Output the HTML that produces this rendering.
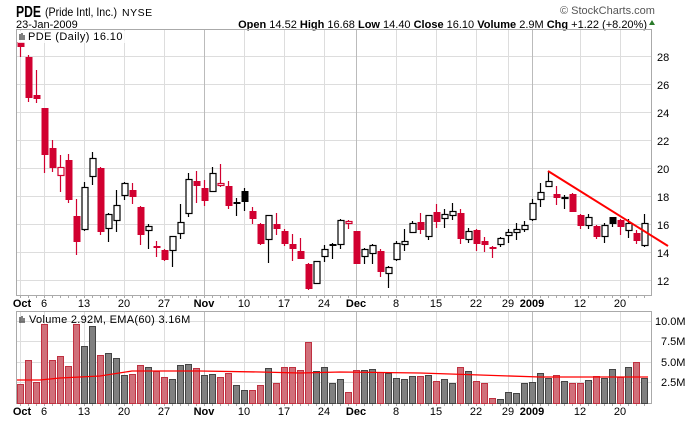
<!DOCTYPE html>
<html><head><meta charset="utf-8"><style>
body{margin:0;background:#fff;}
svg{display:block;font-family:"Liberation Sans",sans-serif;}
</style></head><body>
<svg id="s" width="700" height="421" viewBox="0 0 700 421" xmlns="http://www.w3.org/2000/svg">
<rect width="700" height="421" fill="#fff"/>
<text x="16" y="17" font-size="16" font-weight="bold" fill="#000" textLength="25" lengthAdjust="spacingAndGlyphs">PDE</text>
<text x="45" y="16" font-size="12" fill="#000" textLength="72" lengthAdjust="spacingAndGlyphs">(Pride Intl, Inc.)</text>
<text x="122" y="16" font-size="10.5" fill="#000" letter-spacing="0.5">NYSE</text>
<text x="16" y="28" font-size="11" fill="#000">23-Jan-2009</text>
<text x="560" y="14" font-size="11" fill="#555">© StockCharts.com</text>
<text x="647" y="28" font-size="11" text-anchor="end" fill="#000"><tspan font-weight="bold">Open</tspan> 14.52 <tspan font-weight="bold">High</tspan> 16.68 <tspan font-weight="bold">Low</tspan> 14.40 <tspan font-weight="bold">Close</tspan> 16.10 <tspan font-weight="bold">Volume</tspan> 2.9M <tspan font-weight="bold">Chg</tspan> +1.22 (+8.20%)</text>
<path d="M649,25 l3,-5 l3,5z" fill="#2a7a2a"/>
<g id="grid"></g>
<rect x="16.5" y="29.5" width="635" height="266" fill="none" stroke="#aaa"/>
<rect x="16.5" y="311.5" width="635" height="92" fill="none" stroke="#aaa"/>
<g id="vol"></g>
<g id="cdl"></g>
<line x1="548" y1="171" x2="668" y2="246" stroke="#f00" stroke-width="2"/>
<rect x="18" y="31" width="120" height="12" fill="#fff" opacity="0.8"/>
<text x="28" y="40" font-size="11" fill="#000" letter-spacing="0.4">PDE (Daily) 16.10</text>
<path d="M20,34v6M22,33v7M24,35v5" stroke="#000" stroke-width="1"/>
<text x="29" y="323" font-size="11" fill="#000" letter-spacing="0.3">Volume 2.92M, EMA(60) 3.16M</text>
<path d="M20,317v6M22,316v7M24,318v5" stroke="#000" stroke-width="1"/>
<g font-size="11" fill="#000">
<text x="657" y="61">28</text><text x="657" y="89">26</text><text x="657" y="117">24</text><text x="657" y="145">22</text><text x="657" y="173">20</text><text x="657" y="201">18</text><text x="657" y="229">16</text><text x="657" y="257">14</text><text x="657" y="285">12</text>
<text x="655" y="325">10.0M</text><text x="661" y="345">7.5M</text><text x="661" y="366">5.0M</text><text x="661" y="386">2.5M</text>
</g>
<g id="xl" font-size="11" fill="#000" text-anchor="middle"></g>
</svg>
<script>
var NS="http://www.w3.org/2000/svg";
function el(p,t,a){var e=document.createElementNS(NS,t);for(var k in a)e.setAttribute(k,a[k]);document.getElementById(p).appendChild(e);return e;}
[56,84,112,140,168,196,224,252,280].forEach(function(y){el('grid','line',{x1:16,x2:652,y1:y+.5,y2:y+.5,stroke:'#ddd'});});
[321,341,362,382].forEach(function(y){el('grid','line',{x1:16,x2:652,y1:y+.5,y2:y+.5,stroke:'#ddd'});});
var vx=[[20,0],[44,0],[84,0],[124,0],[164,0],[204,1],[244,0],[284,0],[324,0],[356,1],[396,0],[436,0],[476,0],[508,0],[532,1],[580,0],[620,0]];
vx.forEach(function(v){var c=v[1]?'#bbb':'#ddd';el('grid','line',{x1:v[0]+.5,x2:v[0]+.5,y1:29,y2:296,stroke:c});el('grid','line',{x1:v[0]+.5,x2:v[0]+.5,y1:311,y2:404,stroke:c});});
for(var i=0;i<79;i++){var x=20+8*i;el('grid','line',{x1:x+.5,x2:x+.5,y1:296,y2:298,stroke:'#aaa'});el('grid','line',{x1:x+.5,x2:x+.5,y1:404,y2:406,stroke:'#aaa'});}
var lab=[[20,'Oct',1],[44,'6'],[84,'13'],[124,'20'],[164,'27'],[204,'Nov',1],[244,'10'],[284,'17'],[324,'24'],[356,'Dec',1],[396,'8'],[436,'15'],[476,'22'],[508,'29'],[532,'2009',1],[580,'12'],[620,'20']];
lab.forEach(function(l){[307,415].forEach(function(y){var t=el('xl','text',{x:l[0]+(l[0]==20?2:0),y:y});if(l[2])t.setAttribute('font-weight','bold');t.textContent=l[1];});});
var C=[[42,57,42,47,'r'],[55,102,57,98,'r'],[70,103,95,99,'r'],[108,173,108,155,'r'],[140,172,148,168,'r'],[155,192,167,176,'o'],[154,203,160,200,'r'],[199,255,216,242,'r'],[182,231,187,230,'w'],[152,185,158,177,'w'],
[167,235,168,232,'r'],[213,242,214,229,'w'],[190,232,205,221,'w'],[182,200,183,196,'w'],[183,204,190,197,'r'],[206,245,207,235,'r'],[224,249,226,231,'w'],[241,257,246,248,'r'],[249,261,250,260,'r'],[236,267,236,251,'w'],
[204,239,222,234,'w'],[173,217,179,214,'w'],[171,203,181,186,'r'],[180,206,188,201,'r'],[167,192,173,192,'w'],[164,187,183,186,'o'],[181,209,186,206,'r'],[198,216,202,204,'b'],[188,211,191,202,'b'],[207,224,211,219,'r'],
[223,245,224,244,'r'],[215,263,215,240,'w'],[213,235,224,229,'r'],[229,246,231,244,'r'],[234,261,244,249,'r'],[238,259,251,259,'r'],[263,290,264,289,'r'],[261,284,261,284,'w'],[245,262,249,257,'w'],[243,259,244,246,'b'],
[219,249,220,245,'w'],[220,229,221,224,'o'],[231,264,231,264,'r'],[248,264,249,257,'w'],[244,264,245,254,'w'],[249,277,251,272,'r'],[266,288,267,274,'w'],[241,261,243,260,'w'],[229,251,241,245,'w'],[221,233,223,233,'w'],
[213,234,222,230,'r'],[215,240,215,237,'w'],[204,228,212,222,'r'],[209,228,214,219,'w'],[203,220,211,216,'w'],[209,244,213,239,'r'],[228,243,231,240,'w'],[229,251,230,244,'r'],[237,252,241,245,'r'],[246,258,247,249,'r'],
[237,247,238,245,'w'],[229,243,232,236,'w'],[223,240,229,233,'w'],[221,232,225,230,'w'],[199,221,203,220,'w'],[183,207,192,200,'w'],[171,187,181,187,'w'],[186,205,194,198,'r'],[195,209,197,199,'w'],[193,212,194,212,'r'],
[214,229,215,226,'r'],[214,229,217,226,'w'],[225,239,226,237,'r'],[223,243,225,237,'w'],[217,227,217,224,'b'],[219,235,220,227,'r'],[219,238,223,231,'w'],[230,244,233,241,'r'],[214,247,223,246,'w']];
C.forEach(function(c,i){var x=20+8*i,t=c[4];var col=(t=='r'||t=='o')?'#d10030':'#000';
el('cdl','line',{x1:x+.5,x2:x+.5,y1:c[0],y2:c[1],stroke:col,'stroke-width':1.2});
var h=Math.max(c[3]-c[2],1);
if(t=='r'||t=='b')el('cdl','rect',{x:x-2.5,y:c[2],width:7,height:h,fill:col});
else el('cdl','rect',{x:x-2,y:c[2]+.5,width:6,height:Math.max(h-1,1),fill:'#fff',stroke:col,'stroke-width':1.2});});
var V=[[384,1],[360,1],[382,1],[324,1],[360,1],[356,1],[366,1],[324,1],[346,0],[326,0],[355,1],[353,0],[358,0],[375,0],[374,1],[365,1],[367,0],[371,1],[377,1],[379,0],
[365,0],[364,0],[368,1],[375,0],[374,0],[377,1],[373,1],[385,0],[390,0],[390,1],[385,1],[368,0],[383,1],[367,1],[367,1],[370,1],[342,1],[371,0],[367,0],[383,0],
[379,0],[392,1],[370,1],[370,0],[369,0],[372,1],[373,0],[378,0],[379,0],[376,0],[376,1],[375,0],[381,1],[379,0],[383,0],[367,1],[371,0],[381,1],[383,1],[398,1],
[399,0],[392,0],[393,0],[383,0],[382,0],[373,0],[378,0],[375,1],[381,0],[383,1],[383,1],[380,0],[376,1],[378,0],[369,0],[377,1],[367,0],[362,1],[378,0]];
V.forEach(function(v,i){var x=20+8*i;el('vol','rect',{x:x-2.5,y:v[0]+.5,width:6,height:403-v[0],fill:v[1]?'#d0707a':'#808080',stroke:v[1]?'#c03040':'#444','stroke-width':1});});
el('vol','polyline',{points:'17,380 40,380 60,378 80,377 100,376 132,371 200,371 260,372 300,373 340,372 420,373 480,375 540,377 600,377 648,377',fill:'none',stroke:'#f00','stroke-width':1.3});
</script>
</body></html>
